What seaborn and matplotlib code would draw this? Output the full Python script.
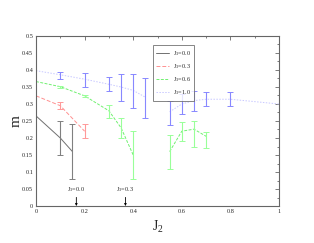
import numpy as np
import pandas as pd
import matplotlib
matplotlib.use("Agg")
import matplotlib.pyplot as plt
import seaborn as sns

# ---- data ----
j3_labels = ["J$_3$=0.0", "J$_3$=0.3", "J$_3$=0.6", "J$_3$=1.0"]

# fit/guide lines (segments)
line0_x = [0.0, 0.1, 0.15]
line0_y = [0.265, 0.20, 0.16]
line3_x = [0.0, 0.1, 0.2]
line3_y = [0.324, 0.295, 0.22]
line6a_x = [0.0, 0.1, 0.2, 0.3, 0.35, 0.4]
line6a_y = [0.366, 0.351, 0.324, 0.28, 0.23, 0.15]
line6b_x = [0.55, 0.6, 0.65, 0.7]
line6b_y = [0.16, 0.22, 0.226, 0.205]
line10a_x = [0.0, 0.1, 0.2, 0.3, 0.35, 0.4, 0.45]
line10a_y = [0.398, 0.386, 0.373, 0.358, 0.35, 0.34, 0.32]
line10b_x = [0.55, 0.6, 0.65, 0.7, 0.8, 1.0]
line10b_y = [0.277, 0.30, 0.31, 0.314, 0.314, 0.30]

# error bar data: x, low, high
eb0_x = [0.1, 0.15]
eb0_lo = [0.15, 0.08]
eb0_hi = [0.25, 0.24]
eb3_x = [0.1, 0.2]
eb3_lo = [0.285, 0.199]
eb3_hi = [0.307, 0.24]
eb6_x = [0.1, 0.2, 0.3, 0.35, 0.4, 0.55, 0.6, 0.65, 0.7]
eb6_lo = [0.348, 0.321, 0.258, 0.20, 0.08, 0.109, 0.19, 0.173, 0.17]
eb6_hi = [0.354, 0.327, 0.298, 0.26, 0.22, 0.209, 0.248, 0.249, 0.218]
eb10_x = [0.1, 0.2, 0.3, 0.35, 0.4, 0.45, 0.55, 0.6, 0.65, 0.7, 0.8]
eb10_lo = [0.374, 0.351, 0.338, 0.31, 0.289, 0.259, 0.239, 0.27, 0.279, 0.294, 0.294]
eb10_hi = [0.393, 0.392, 0.379, 0.389, 0.389, 0.377, 0.31, 0.328, 0.339, 0.334, 0.334]

arrow_x = [0.166, 0.368]
arrow_labels = ["J$_3$=0.0", "J$_3$=0.3"]

xticks = [0, 0.2, 0.4, 0.6, 0.8, 1]
xticklabels = ["0", "0.2", "0.4", "0.6", "0.8", "1"]
yticks = [0, 0.05, 0.1, 0.15, 0.2, 0.25, 0.3, 0.35, 0.4, 0.45, 0.5]
yticklabels = ["0", "0.05", "0.1", "0.15", "0.2", "0.25", "0.3", "0.35", "0.4", "0.45", "0.5"]

sns.set_style("white")
plt.rcParams["font.family"] = ["Liberation Serif", "DejaVu Serif"]
plt.rcParams["mathtext.fontset"] = "custom"
plt.rcParams["mathtext.rm"] = "Liberation Serif"
plt.rcParams["mathtext.it"] = "Liberation Serif"

fig = plt.figure(figsize=(3.14, 2.43), dpi=100)
ax = fig.add_axes([36/314, 1-206/243, 243/314, 170/243])

line_colors = ["#707070", "#ff9090", "#70f070", "#c8c8ff"]
bar_colors = ["#808080", "#ff9999", "#99ff99", "#8888ff"]
styles = ["-", (0, (4, 2)), (0, (3, 1.5)), (0, (1.5, 1.5))]

segs = [
    [(line0_x, line0_y)],
    [(line3_x, line3_y)],
    [(line6a_x, line6a_y), (line6b_x, line6b_y)],
    [(line10a_x, line10a_y), (line10b_x, line10b_y)],
]
for i, seglist in enumerate(segs):
    for k, (sx, sy) in enumerate(seglist):
        df = pd.DataFrame({"x": sx, "y": sy})
        sns.lineplot(data=df, x="x", y="y", ax=ax, color=line_colors[i],
                     linestyle=styles[i], linewidth=0.7,
                     label=j3_labels[i] if k == 0 else None, sort=False)

ebs = [(eb0_x, eb0_lo, eb0_hi), (eb3_x, eb3_lo, eb3_hi),
       (eb6_x, eb6_lo, eb6_hi), (eb10_x, eb10_lo, eb10_hi)]
for i, (ex, lo, hi) in enumerate(ebs):
    lo = np.array(lo); hi = np.array(hi)
    c = (lo + hi) / 2
    ax.errorbar(ex, c, yerr=[c - lo, hi - c], fmt="none", ecolor=bar_colors[i],
                elinewidth=0.8, capsize=2.0, capthick=0.7)

for xa, lab in zip(arrow_x, arrow_labels):
    ax.annotate(lab, xy=(xa, 0.0), xytext=(xa, 0.035), ha="center", va="bottom",
                fontsize=4.5,
                arrowprops=dict(arrowstyle="-|>", color="black", lw=0.6,
                                mutation_scale=3, shrinkA=0, shrinkB=0))

ax.set_xlim(0, 1)
ax.set_ylim(0, 0.5)
ax.set_xticks(xticks)
ax.set_xticklabels(xticklabels)
ax.set_yticks(yticks)
ax.set_yticklabels(yticklabels)
ax.set_xticks(np.arange(0.1, 1.0, 0.2), minor=True)
ax.set_yticks(np.arange(0.025, 0.5, 0.05), minor=True)
ax.tick_params(which="both", direction="in", top=True, right=True,
               labelsize=4.5, color="#666666", pad=2)
ax.tick_params(which="major", length=3, width=0.6)
ax.tick_params(which="minor", length=1.5, width=0.6)
for s in ax.spines.values():
    s.set_color("#666666")
    s.set_linewidth(0.8)

ax.set_xlabel("J$_2$", fontsize=10, labelpad=4)
ax.set_ylabel("m", fontsize=11, labelpad=0)

leg = ax.legend(loc="upper left", bbox_to_anchor=((152.7-36)/243, (206-45)/170),
                borderaxespad=0,
                fontsize=4.5, frameon=True, fancybox=False, handlelength=2.0,
                borderpad=0.6, labelspacing=0.7, handletextpad=0.6)
leg.get_frame().set_edgecolor("#666666")
leg.get_frame().set_linewidth(0.7)

fig.savefig("out.png", dpi=100)
